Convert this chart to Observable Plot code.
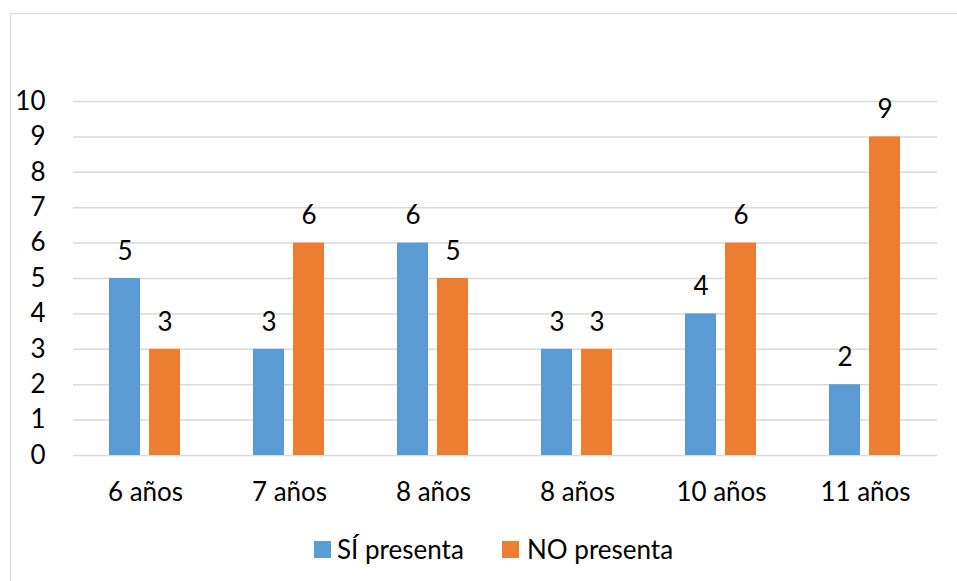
<!DOCTYPE html>
<html>
<head>
<meta charset="utf-8">
<script src="https://cdn.jsdelivr.net/npm/d3@7"></script>
<script src="https://cdn.jsdelivr.net/npm/@observablehq/plot@0.6"></script>
<style>
  html, body { margin: 0; padding: 0; background: #fff; }
  body { width: 957px; height: 581px; position: relative; overflow: hidden; font-family: Lato, "Open Sans", sans-serif; }
  #frame { position: absolute; left: 10px; top: 13px; width: 1000px; height: 600px;
           border-left: 1px solid #d9d9d9; border-top: 1px solid #d9d9d9; }
  #chart { position: absolute; left: 0; top: 0; }
  #legend { position: absolute; left: 0; top: 0; width: 957px; height: 581px; pointer-events: none; }
  .sw { position: absolute; width: 17px; height: 17px; }
  .lb { position: absolute; font-size: 26px; line-height: 26px; color: #000; white-space: nowrap; }
</style>
</head>
<body>
<div id="frame"></div>
<div id="chart"></div>
<div id="legend"></div>
<script>
// Age groups (the fourth group is labelled "8 años" as well)
const ages = ["6 años", "7 años", "8 años", "8 años", "10 años", "11 años"];
const series = ["SÍ presenta", "NO presenta"];
const siPresenta = [5, 3, 6, 3, 4, 2];
const noPresenta = [3, 6, 5, 3, 6, 9];
const yTicks = [0, 1, 2, 3, 4, 5, 6, 7, 8, 9, 10];
const colors = ["#5b9bd5", "#ed7d31"];

// One row per bar; groups are keyed by index so repeated labels stay distinct
const rows = ages.flatMap((age, i) => [
  {group: i, serie: series[0], value: siPresenta[i]},
  {group: i, serie: series[1], value: noPresenta[i]}
]);

const chart = Plot.plot({
  width: 957,
  height: 525,
  marginLeft: 71,
  marginRight: 19,
  marginTop: 101,
  marginBottom: 70,
  style: {fontFamily: "Lato, 'Open Sans', sans-serif", fontSize: "26px", color: "#000", background: "transparent", overflow: "visible"},
  fx: {domain: d3.range(ages.length), paddingInner: 0, paddingOuter: 0, tickFormat: i => ages[i], tickSize: 0, tickPadding: 27, label: null, axis: "bottom"},
  x: {domain: series, paddingInner: 0.22, paddingOuter: 0.872, axis: null},
  y: {domain: [0, 10], ticks: yTicks, tickSize: 0, tickPadding: 28, label: null},
  color: {domain: series, range: colors},
  marks: [
    Plot.gridY(yTicks, {stroke: "#d9d9d9", strokeOpacity: 1, strokeWidth: 1.5}),
    Plot.barY(rows, {fx: "group", x: "serie", y: "value", fill: "serie"}),
    Plot.text(rows, {fx: "group", x: "serie", y: "value", text: "value", dy: -27, fill: "#000", fontSize: 26})
  ]
});
document.getElementById("chart").appendChild(chart);

// Legend below the plot area
const legend = document.getElementById("legend");
const legendPos = [{sw: 314, lb: 337}, {sw: 502, lb: 527}];
series.forEach((s, i) => {
  const sw = document.createElement("div");
  sw.className = "sw";
  sw.style.left = legendPos[i].sw + "px";
  sw.style.top = "541px";
  sw.style.background = colors[i];
  legend.appendChild(sw);
  const lb = document.createElement("div");
  lb.className = "lb";
  lb.style.left = legendPos[i].lb + "px";
  lb.style.top = "536px";
  lb.textContent = s;
  legend.appendChild(lb);
});
</script>
</body>
</html>
